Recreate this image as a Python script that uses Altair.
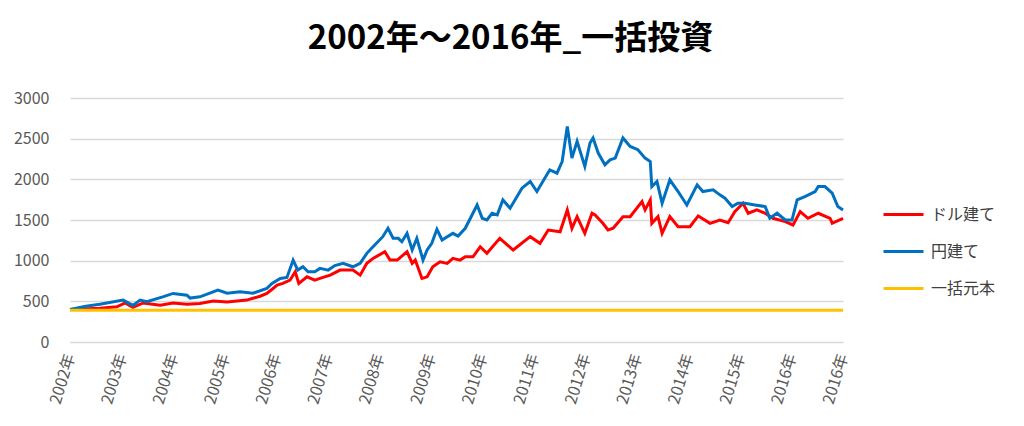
import json
import altair as alt
import pandas as pd

# Year positions (0 = start of 2002, 15 = end of the series) and values
blue_t = [0.00, 0.31, 0.58, 1.03, 1.22, 1.36, 1.49, 1.80, 2.00, 2.27, 2.33, 2.52, 2.87, 3.05, 3.30,
          3.55, 3.82, 3.92, 4.08, 4.21, 4.33, 4.42, 4.52, 4.62, 4.75, 4.85, 5.01, 5.14, 5.30, 5.49,
          5.63, 5.76, 5.88, 6.07, 6.17, 6.27, 6.37, 6.44, 6.54, 6.64, 6.73, 6.85, 6.93, 7.02, 7.12,
          7.22, 7.32, 7.43, 7.53, 7.67, 7.90, 8.00, 8.09, 8.19, 8.29, 8.40, 8.54, 8.77, 8.93, 9.06,
          9.31, 9.45, 9.55, 9.65, 9.74, 9.84, 9.99, 10.09, 10.15, 10.25, 10.38, 10.48, 10.58, 10.73,
          10.87, 11.02, 11.16, 11.26, 11.29, 11.39, 11.49, 11.64, 11.80, 11.97, 12.17, 12.28, 12.48,
          12.61, 12.71, 12.85, 12.96, 13.10, 13.29, 13.49, 13.58, 13.72, 13.88, 14.01, 14.11, 14.26,
          14.46, 14.52, 14.65, 14.79, 14.90, 15.00]
blue_v = [400, 440, 465, 515, 450, 515, 495, 555, 597, 575, 540, 555, 637, 600, 617,
          600, 660, 720, 782, 794, 1007, 884, 925, 863, 863, 905, 884, 940, 967, 925,
          967, 1090, 1171, 1295, 1398, 1275, 1275, 1233, 1336, 1131, 1275, 1007, 1131, 1213, 1385,
          1254, 1295, 1336, 1303, 1398, 1685, 1521, 1500, 1582, 1562, 1747, 1645, 1891, 1973, 1850,
          2117, 2076, 2219, 2651, 2261, 2466, 2158, 2446, 2508, 2323, 2179, 2240, 2261, 2508,
          2404, 2364, 2261, 2219, 1911, 1973, 1707, 1994, 1850, 1685, 1932, 1850, 1871,
          1809, 1768, 1665, 1706, 1706, 1685, 1665, 1521, 1583, 1500, 1500, 1747, 1788,
          1850, 1911, 1911, 1830, 1665, 1624]

red_t = [0.00, 0.58, 0.91, 1.07, 1.22, 1.42, 1.75, 2.00, 2.27, 2.52, 2.78, 3.05, 3.43, 3.69, 3.82,
         3.94, 4.02, 4.13, 4.27, 4.37, 4.44, 4.60, 4.75, 4.91, 5.05, 5.24, 5.49, 5.63, 5.76, 5.88,
         6.11, 6.21, 6.35, 6.54, 6.64, 6.70, 6.83, 6.93, 7.04, 7.18, 7.32, 7.43, 7.57, 7.67, 7.82,
         7.96, 8.09, 8.34, 8.60, 8.93, 9.12, 9.28, 9.51, 9.65, 9.74, 9.84, 9.99, 10.13, 10.19,
         10.34, 10.44, 10.54, 10.73, 10.87, 11.10, 11.16, 11.26, 11.29, 11.41, 11.49, 11.64, 11.80,
         12.03, 12.19, 12.42, 12.61, 12.77, 12.90, 13.06, 13.16, 13.33, 13.49, 13.64, 13.88, 14.03,
         14.17, 14.32, 14.52, 14.75, 14.79, 15.00]
red_v = [400, 415, 432, 480, 427, 480, 452, 480, 465, 473, 505, 493, 515, 563, 597,
         658, 700, 720, 761, 863, 720, 801, 761, 794, 822, 884, 884, 822, 967, 1028,
         1110, 1007, 1007, 1110, 967, 1007, 782, 801, 925, 986, 967, 1028, 1007, 1048, 1048,
         1171, 1090, 1275, 1131, 1295, 1213, 1377, 1356, 1624, 1398, 1541, 1336, 1583, 1562,
         1459, 1377, 1398, 1541, 1541, 1726, 1624, 1747, 1459, 1541, 1336, 1541, 1418,
         1418, 1550, 1459, 1500, 1467, 1603, 1706, 1583, 1624, 1583, 1521, 1480, 1439,
         1603, 1521, 1583, 1521, 1459, 1521]

principal_t = [0.0, 15.0]
principal_v = [390, 390]

series_names = ["ドル建て", "円建て", "一括元本"]
series_colors = ["#FF0000", "#0070C0", "#FFC000"]
year_labels = ["2002年", "2003年", "2004年", "2005年", "2006年", "2007年", "2008年", "2009年",
               "2010年", "2011年", "2012年", "2013年", "2014年", "2015年", "2016年", "2016年"]
y_ticks = [0, 500, 1000, 1500, 2000, 2500, 3000]

df = pd.concat([
    pd.DataFrame({"t": red_t, "v": red_v, "series": series_names[0]}),
    pd.DataFrame({"t": blue_t, "v": blue_v, "series": series_names[1]}),
    pd.DataFrame({"t": principal_t, "v": principal_v, "series": series_names[2]}),
])

FONT = "Noto Sans CJK JP"
label_expr = json.dumps(year_labels, ensure_ascii=False) + "[round(datum.value)]"

base = alt.Chart(df).mark_line(strokeWidth=3).encode(
    x=alt.X("t:Q", scale=alt.Scale(domain=[0, 15], nice=False, zero=False),
            axis=alt.Axis(values=list(range(16)), labelExpr=label_expr, title=None,
                          grid=False, ticks=False, domain=True, domainColor="#d9d9d9",
                          labelAngle=287, labelFontSize=16, labelColor="#595959",
                          labelFont=FONT, labelPadding=12, labelOverlap=False,
                          labelAlign="right", labelBaseline="middle")),
    y=alt.Y("v:Q", scale=alt.Scale(domain=[0, 3000], nice=False),
            axis=alt.Axis(values=y_ticks, format="d", title=None, ticks=False, domain=False,
                          gridColor="#d9d9d9", gridWidth=1.3, labelFontSize=16,
                          labelColor="#595959", labelFont=FONT, labelPadding=21)),
    color=alt.Color("series:N",
                    scale=alt.Scale(domain=series_names, range=series_colors),
                    legend=alt.Legend(title=None, orient="none", legendX=812, legendY=95,
                                      symbolType="stroke", symbolSize=1600,
                                      symbolStrokeWidth=3, labelFontSize=16,
                                      labelColor="#404040", labelFont=FONT,
                                      rowPadding=7, labelOffset=6)),
)

layers = [base.transform_filter(alt.datum.series == s) for s in series_names]

chart = alt.layer(*layers).properties(
    width=773,
    height=244,
    padding={"left": 62, "top": 90, "right": 173, "bottom": 70},
    autosize=alt.AutoSizeParams(type="none"),
    title=alt.TitleParams("2002年～2016年_一括投資", fontSize=33, font=FONT, fontWeight="bold",
                          color="#000000", anchor="middle", dx=54, offset=34),
).configure_view(stroke=None)

chart.save("out.html", embed_options={"renderer": "svg", "actions": False})
